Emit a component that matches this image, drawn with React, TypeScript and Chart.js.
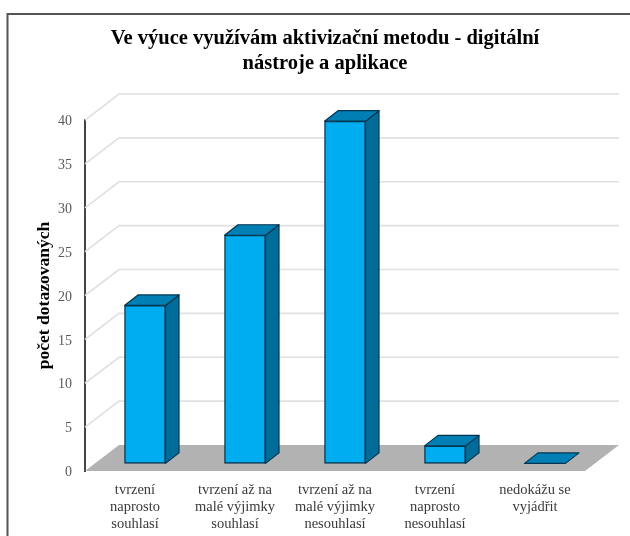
import React, { useEffect, useRef } from "react";
import { Chart, registerables } from "chart.js";

Chart.register(...registerables);

const categories = [
  ["tvrzení", "naprosto", "souhlasí"],
  ["tvrzení až na", "malé výjimky", "souhlasí"],
  ["tvrzení až na", "malé výjimky", "nesouhlasí"],
  ["tvrzení", "naprosto", "nesouhlasí"],
  ["nedokážu se", "vyjádřit"],
];
const respondents = [18, 26, 39, 2, 0];
const titleLines = ["Ve výuce využívám aktivizační metodu - digitální", "nástroje a aplikace"];
const yAxisTitle = "počet dotazovaných";

const SERIF = "'Liberation Serif', 'Times New Roman', serif";
const FRONT = "#00AEEF";
const SIDE = "#006C9A";
const TOP = "#007FB5";
const EDGE = "#04354F";
const WALL = { dx: 34, dy: 26 };
const BAR_SHIFT = { dx: 10, dy: 7.6 };
const BAR_DEPTH = { dx: 13.5, dy: 10.5 };

const scene = {
  id: "scene",
  beforeDraw(chart: any) {
    const { ctx, width, height } = chart;
    ctx.save();
    ctx.fillStyle = "#ffffff";
    ctx.fillRect(0, 0, width, height);
    ctx.strokeStyle = "#555555";
    ctx.lineWidth = 2;
    ctx.beginPath();
    ctx.moveTo(7.5, height);
    ctx.lineTo(7.5, 14);
    ctx.lineTo(width, 14);
    ctx.stroke();
    ctx.restore();
  },
  beforeDatasetsDraw(chart: any) {
    const { ctx, chartArea, scales } = chart;
    const { left, right } = chartArea;
    const y = scales.y;
    ctx.save();
    ctx.strokeStyle = "#E0E0E0";
    ctx.lineWidth = 1.6;
    y.ticks.forEach((t: any) => {
      if (t.value === 0) return;
      const py = y.getPixelForValue(t.value);
      ctx.beginPath();
      ctx.moveTo(left, py);
      ctx.lineTo(left + WALL.dx, py - WALL.dy);
      ctx.lineTo(right + WALL.dx, py - WALL.dy);
      ctx.stroke();
    });
    const y0 = y.getPixelForValue(0);
    ctx.fillStyle = "#B2B2B2";
    ctx.beginPath();
    ctx.moveTo(left, y0);
    ctx.lineTo(left + WALL.dx, y0 - WALL.dy);
    ctx.lineTo(right + WALL.dx, y0 - WALL.dy);
    ctx.lineTo(right, y0);
    ctx.closePath();
    ctx.fill();
    ctx.restore();
  },
  beforeDatasetDraw(chart: any) {
    chart.ctx.save();
    chart.ctx.translate(BAR_SHIFT.dx, -BAR_SHIFT.dy);
  },
  afterDatasetDraw(chart: any, args: any) {
    const { ctx } = chart;
    const meta = chart.getDatasetMeta(args.index);
    ctx.strokeStyle = EDGE;
    ctx.lineWidth = 1.2;
    ctx.lineJoin = "round";
    meta.data.forEach((bar: any) => {
      const l = bar.x - bar.width / 2;
      const r = bar.x + bar.width / 2;
      const t = bar.y;
      const b = bar.base;
      const { dx, dy } = BAR_DEPTH;
      if (b - t > 0.5) {
        ctx.fillStyle = SIDE;
        ctx.beginPath();
        ctx.moveTo(r, t);
        ctx.lineTo(r + dx, t - dy);
        ctx.lineTo(r + dx, b - dy);
        ctx.lineTo(r, b);
        ctx.closePath();
        ctx.fill();
        ctx.stroke();
      }
      ctx.fillStyle = TOP;
      ctx.beginPath();
      ctx.moveTo(l, t);
      ctx.lineTo(l + dx, t - dy);
      ctx.lineTo(r + dx, t - dy);
      ctx.lineTo(r, t);
      ctx.closePath();
      ctx.fill();
      ctx.stroke();
    });
    ctx.restore();
  },
  afterLayout(chart: any) {
    if (chart.titleBlock) {
      chart.titleBlock.left = 20;
      chart.titleBlock.right = 630;
    }
  },
};

export default function App() {
  const ref = useRef<HTMLCanvasElement | null>(null);
  useEffect(() => {
    if (!ref.current) return;
    const chart = new Chart(ref.current, {
      type: "bar",
      data: {
        labels: categories,
        datasets: [
          {
            label: yAxisTitle,
            data: respondents,
            backgroundColor: FRONT,
            borderColor: EDGE,
            borderWidth: 1.4,
            borderSkipped: false,
            barThickness: 41,
            clip: false,
          },
        ],
      },
      plugins: [scene],
      options: {
        animation: false,
        responsive: false,
        layout: { padding: { top: 26, right: 45, left: 0, bottom: 0 } },
        plugins: {
          legend: { display: false },
          tooltip: { enabled: false },
          title: {
            display: true,
            text: titleLines,
            color: "#000000",
            font: { family: SERIF, size: 20.5, weight: "bold", lineHeight: 1.22 },
            padding: { top: 0, bottom: 44 },
          },
        },
        scales: {
          x: {
            grid: { display: false, drawTicks: false },
            border: { display: false },
            ticks: {
              color: "#3a3a3a",
              font: { family: SERIF, size: 14.5, lineHeight: 1.2 },
              padding: 10,
              maxRotation: 0,
              minRotation: 0,
              autoSkip: false,
            },
            afterFit(scale: any) {
              scale.height = 65;
            },
          },
          y: {
            min: 0,
            max: 40,
            ticks: {
              stepSize: 5,
              color: "#5a5a5a",
              font: { family: SERIF, size: 14 },
              padding: 13,
              labelOffset: 1.5,
            },
            grid: { display: false, drawTicks: false },
            border: { display: true, color: "#444444", width: 2 },
            title: {
              display: true,
              text: yAxisTitle,
              color: "#000000",
              font: { family: SERIF, size: 17.5, weight: "bold" },
              padding: { top: 34, bottom: 0 },
            },
            afterFit(scale: any) {
              scale.width = 85;
            },
          },
        },
      },
    } as any);
    return () => chart.destroy();
  }, []);
  return (
    <div style={{ position: "absolute", left: 0, top: 0, width: 630, height: 536, overflow: "hidden", background: "#fff" }}>
      <canvas ref={ref} width={630} height={536} style={{ display: "block" }} />
    </div>
  );
}
